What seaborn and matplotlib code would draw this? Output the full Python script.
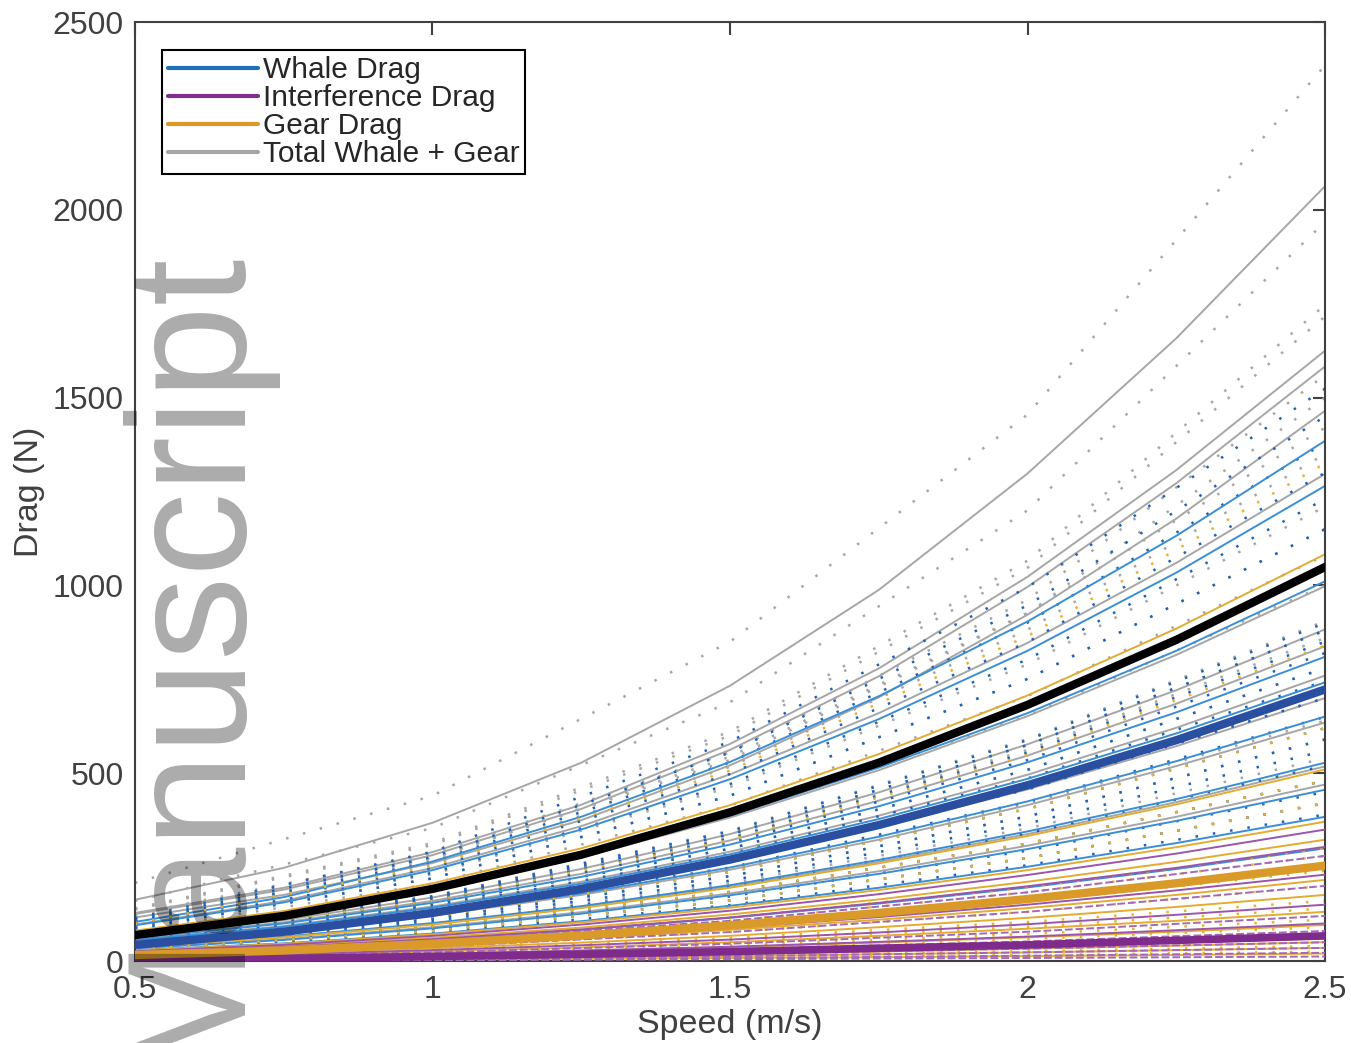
import pandas as pd
import matplotlib
matplotlib.use("Agg")
import matplotlib.pyplot as plt
from matplotlib.lines import Line2D
import seaborn as sns

# Speeds (m/s) at which each drag curve is sampled
speeds_fine = [0.5, 0.75, 1.0, 1.25, 1.5, 1.75, 2.0, 2.25, 2.5]
speeds_coarse = [0.5, 1.0, 1.5, 2.0, 2.5]

# Total whale + gear drag (N), dotted cases (coarse speeds)
total_dotted = [
    [208, 440, 850, 1455, 2385], [160, 354, 689, 1200, 1968], [140, 314, 611, 1066, 1747],
    [137, 309, 600, 1047, 1716], [125, 285, 556, 962, 1560], [120, 274, 535, 925, 1500],
    [107, 271, 544, 927, 1420], [101, 258, 517, 882, 1350], [91, 231, 463, 790, 1210],
    [86, 220, 440, 751, 1150], [81, 206, 414, 705, 1080], [75, 191, 383, 653, 1000],
    [68, 173, 347, 591, 905], [66, 168, 337, 575, 880], [65, 164, 329, 562, 860],
    [59, 149, 299, 509, 780], [53, 134, 268, 457, 700], [48, 122, 245, 418, 640],
    [44, 113, 226, 385, 590], [41, 103, 207, 353, 540], [36, 92, 184, 313, 480],
    [32, 80, 161, 274, 420],
]
# Total whale + gear drag (N), solid cases (fine speeds)
total_solid = [
    [163, 248, 368, 528, 733, 988, 1298, 1658, 2063],
    [128, 195, 290, 416, 578, 779, 1023, 1307, 1625],
    [125, 190, 282, 405, 562, 758, 996, 1272, 1583],
    [116, 176, 261, 375, 521, 702, 922, 1178, 1465],
    [97, 160, 248, 359, 497, 660, 847, 1060, 1297],
    [78, 128, 199, 289, 399, 531, 681, 852, 1043],
    [75, 123, 191, 276, 382, 508, 652, 815, 998],
    [66, 109, 169, 245, 338, 449, 577, 721, 883],
    [63, 103, 160, 232, 321, 427, 547, 685, 838],
    [57, 93, 145, 211, 291, 387, 496, 621, 760],
    [53, 86, 134, 194, 268, 356, 457, 572, 700],
    [48, 78, 121, 176, 243, 323, 415, 519, 635],
    [39, 64, 99, 143, 198, 264, 338, 423, 518],
    [35, 58, 90, 130, 180, 239, 307, 384, 470],
]

# Whale drag (N)
whale_dotted = [
    [114, 291, 584, 995, 1524], [109, 277, 555, 947, 1450], [104, 264, 529, 901, 1380],
    [98, 248, 498, 849, 1300], [92, 235, 471, 803, 1230], [86, 220, 440, 751, 1150],
    [68, 172, 345, 588, 900], [66, 168, 337, 575, 880], [64, 162, 326, 555, 850],
    [62, 157, 314, 535, 820], [59, 149, 299, 509, 780], [56, 142, 285, 486, 745],
    [53, 134, 268, 457, 700], [49, 124, 249, 424, 650], [47, 118, 237, 405, 620],
    [44, 113, 226, 385, 590], [42, 107, 214, 366, 560], [39, 99, 199, 340, 520],
    [36, 92, 184, 313, 480], [34, 86, 172, 294, 450], [32, 80, 161, 274, 420],
    [29, 74, 149, 255, 390],
]
whale_solid = [
    [104, 170, 265, 384, 530, 705, 904, 1132, 1385],
    [95, 156, 242, 350, 484, 644, 826, 1034, 1265],
    [76, 124, 193, 280, 387, 515, 660, 826, 1011],
    [61, 100, 155, 224, 310, 412, 529, 662, 810],
    [56, 91, 142, 206, 284, 378, 485, 606, 742],
    [49, 80, 124, 180, 249, 331, 425, 532, 651],
    [40, 65, 101, 146, 202, 269, 345, 431, 528],
    [34, 56, 87, 126, 175, 232, 298, 373, 456],
    [29, 47, 73, 106, 147, 195, 251, 314, 384],
    [23, 37, 57, 83, 115, 153, 196, 245, 300],
]

# Gear drag (N)
gear_dotted = [
    [99, 253, 507, 865, 1325], [63, 160, 322, 549, 840], [47, 118, 237, 405, 620],
    [36, 92, 184, 313, 480], [32, 80, 161, 274, 420], [23, 57, 115, 196, 300],
    [21, 53, 107, 183, 280], [18, 46, 92, 157, 240], [15, 38, 77, 131, 200],
    [12, 31, 61, 104, 160], [11, 27, 54, 91, 140], [8, 21, 42, 72, 110],
    [7, 17, 34, 59, 90], [5, 11, 23, 39, 60], [3, 8, 15, 26, 40], [2, 5, 10, 16, 25],
]
gear_solid = [
    [81, 133, 207, 300, 415, 551, 707, 885, 1083],
    [38, 63, 97, 141, 195, 260, 333, 417, 510],
    [28, 46, 71, 103, 142, 189, 242, 303, 371],
    [24, 40, 62, 89, 124, 164, 211, 264, 323],
    [16, 27, 41, 60, 83, 110, 141, 176, 216],
    [13, 22, 34, 49, 67, 90, 115, 144, 176],
    [10, 16, 25, 36, 50, 67, 86, 107, 131],
    [7, 12, 18, 27, 37, 49, 63, 78, 96],
    [5, 8, 13, 19, 26, 35, 45, 56, 69],
    [4, 6, 10, 14, 19, 25, 33, 41, 50],
    [3, 4, 7, 10, 13, 18, 23, 29, 35],
    [2, 2, 4, 6, 8, 10, 13, 16, 20],
]

# Interference drag (N)
interference_dashed = [
    [21, 53, 107, 183, 280], [15, 38, 77, 131, 200], [9, 23, 46, 78, 120],
    [6, 15, 31, 52, 80], [4, 10, 19, 33, 50], [3, 7, 13, 23, 35],
    [2, 4, 8, 14, 22], [1, 2, 5, 8, 12],
]
interference_solid = [
    [26, 43, 67, 97, 134, 178, 229, 286, 350],
    [23, 37, 58, 84, 116, 155, 199, 248, 304],
    [17, 28, 44, 64, 88, 117, 150, 188, 230],
    [11, 18, 29, 42, 57, 76, 98, 123, 150],
    [8, 12, 19, 28, 38, 51, 65, 82, 100],
    [5, 7, 11, 17, 23, 31, 39, 49, 60],
]

# Mean curves
mean_total = [69, 120, 192, 283, 396, 528, 682, 855, 1049]
mean_whale = [43, 78, 128, 192, 270, 362, 468, 588, 723]
mean_gear = [16, 28, 46, 68, 95, 128, 165, 207, 254]
mean_interference = [4, 7, 12, 18, 25, 34, 43, 55, 67]

legend_labels = ["Whale Drag", "Interference Drag", "Gear Drag", "Total Whale + Gear"]

GRAY = "#a6a6a6"
BLUE_THIN = "#3b8ed4"
BLUE_DOT = "#1d63b8"
BLUE_MEAN = "#2a4ea0"
ORANGE_THIN = "#e4ab32"
ORANGE_DOT = "#e9b22c"
ORANGE_MEAN = "#d99a29"
PURPLE_THIN = "#9b55aa"
PURPLE_DOT = "#a468b4"
PURPLE_MEAN = "#7e2b8c"
AXIS = "#404040"

DOTS = (0, (1, 6))
DASHES = (0, (4, 1.5))

sns.set_style("white")
plt.rcParams["font.family"] = ["Liberation Sans", "DejaVu Sans"]

fig = plt.figure(figsize=(13.51, 10.43), dpi=100)
ax = fig.add_axes([0.0999, 0.0786, 0.8809, 0.9003])


def long_form(rows, speeds):
    recs = []
    for i, row in enumerate(rows):
        for s, d in zip(speeds, row):
            recs.append((i, s, d))
    return pd.DataFrame(recs, columns=["line", "speed", "drag"])


def draw(rows, speeds, color, lw, ls, z):
    sns.lineplot(data=long_form(rows, speeds), x="speed", y="drag", units="line",
                 estimator=None, color=color, linewidth=lw, linestyle=ls,
                 legend=False, ax=ax, zorder=z, sort=False)


draw(total_dotted, speeds_coarse, GRAY, 1.8, DOTS, 2)
draw(total_solid, speeds_fine, GRAY, 1.4, "-", 2.1)
draw(whale_dotted, speeds_coarse, BLUE_DOT, 1.8, DOTS, 2.2)
draw(whale_solid, speeds_fine, BLUE_THIN, 1.4, "-", 2.3)
draw(gear_dotted, speeds_coarse, ORANGE_DOT, 1.8, DOTS, 2.4)
draw(gear_solid, speeds_fine, ORANGE_THIN, 1.4, "-", 2.5)
draw(interference_dashed, speeds_coarse, PURPLE_DOT, 1.4, DASHES, 2.6)
draw(interference_solid, speeds_fine, PURPLE_THIN, 1.4, "-", 2.7)

draw([mean_interference], speeds_fine, PURPLE_MEAN, 5.5, "-", 3)
draw([mean_gear], speeds_fine, ORANGE_MEAN, 6, "-", 3.1)
draw([mean_whale], speeds_fine, BLUE_MEAN, 6, "-", 3.2)
draw([mean_total], speeds_fine, "black", 6, "-", 3.3)

ax.set_xlim(0.5, 2.5)
ax.set_ylim(0, 2500)
ax.set_xticks([0.5, 1.0, 1.5, 2.0, 2.5])
ax.set_xticklabels(["0.5", "1", "1.5", "2", "2.5"])
ax.set_yticks([0, 500, 1000, 1500, 2000, 2500])
ax.set_yticklabels(["0", "500", "1000", "1500", "2000", "2500"])
ax.tick_params(direction="in", length=9, width=1.5, colors=AXIS, labelsize=23,
               top=True, right=True)
ax.tick_params(axis="x", pad=10)
ax.tick_params(axis="y", pad=8)
for sp in ax.spines.values():
    sp.set_color(AXIS)
    sp.set_linewidth(1.5)
    sp.set_visible(True)

ax.set_xlabel("Speed (m/s)", fontsize=24.5, color=AXIS)
ax.set_ylabel("Drag (N)", fontsize=24.5, color=AXIS)
ax.xaxis.set_label_coords(0.5, -0.051)
ax.yaxis.set_label_coords(-0.076, 0.5)

handles = [Line2D([], [], color=c, lw=3) for c in ["#2070b8", "#7e2f8e", "#d99a2b", GRAY]]
leg = ax.legend(handles, legend_labels, loc="upper left", bbox_to_anchor=(0.0227, 0.970),
                fontsize=21.5, frameon=True, fancybox=False, edgecolor="black",
                framealpha=1, handlelength=3.0, handletextpad=0.17, labelspacing=0.0,
                borderpad=0.2, borderaxespad=0)
leg.get_frame().set_linewidth(1.5)
leg.set_zorder(10)

fig.text(232 / 1351, 1 - 245 / 1043, "Manuscript", rotation=90, rotation_mode="anchor",
         ha="right", va="baseline", fontsize=121, color="black", alpha=0.33)

fig.savefig("out.png", dpi=100)
